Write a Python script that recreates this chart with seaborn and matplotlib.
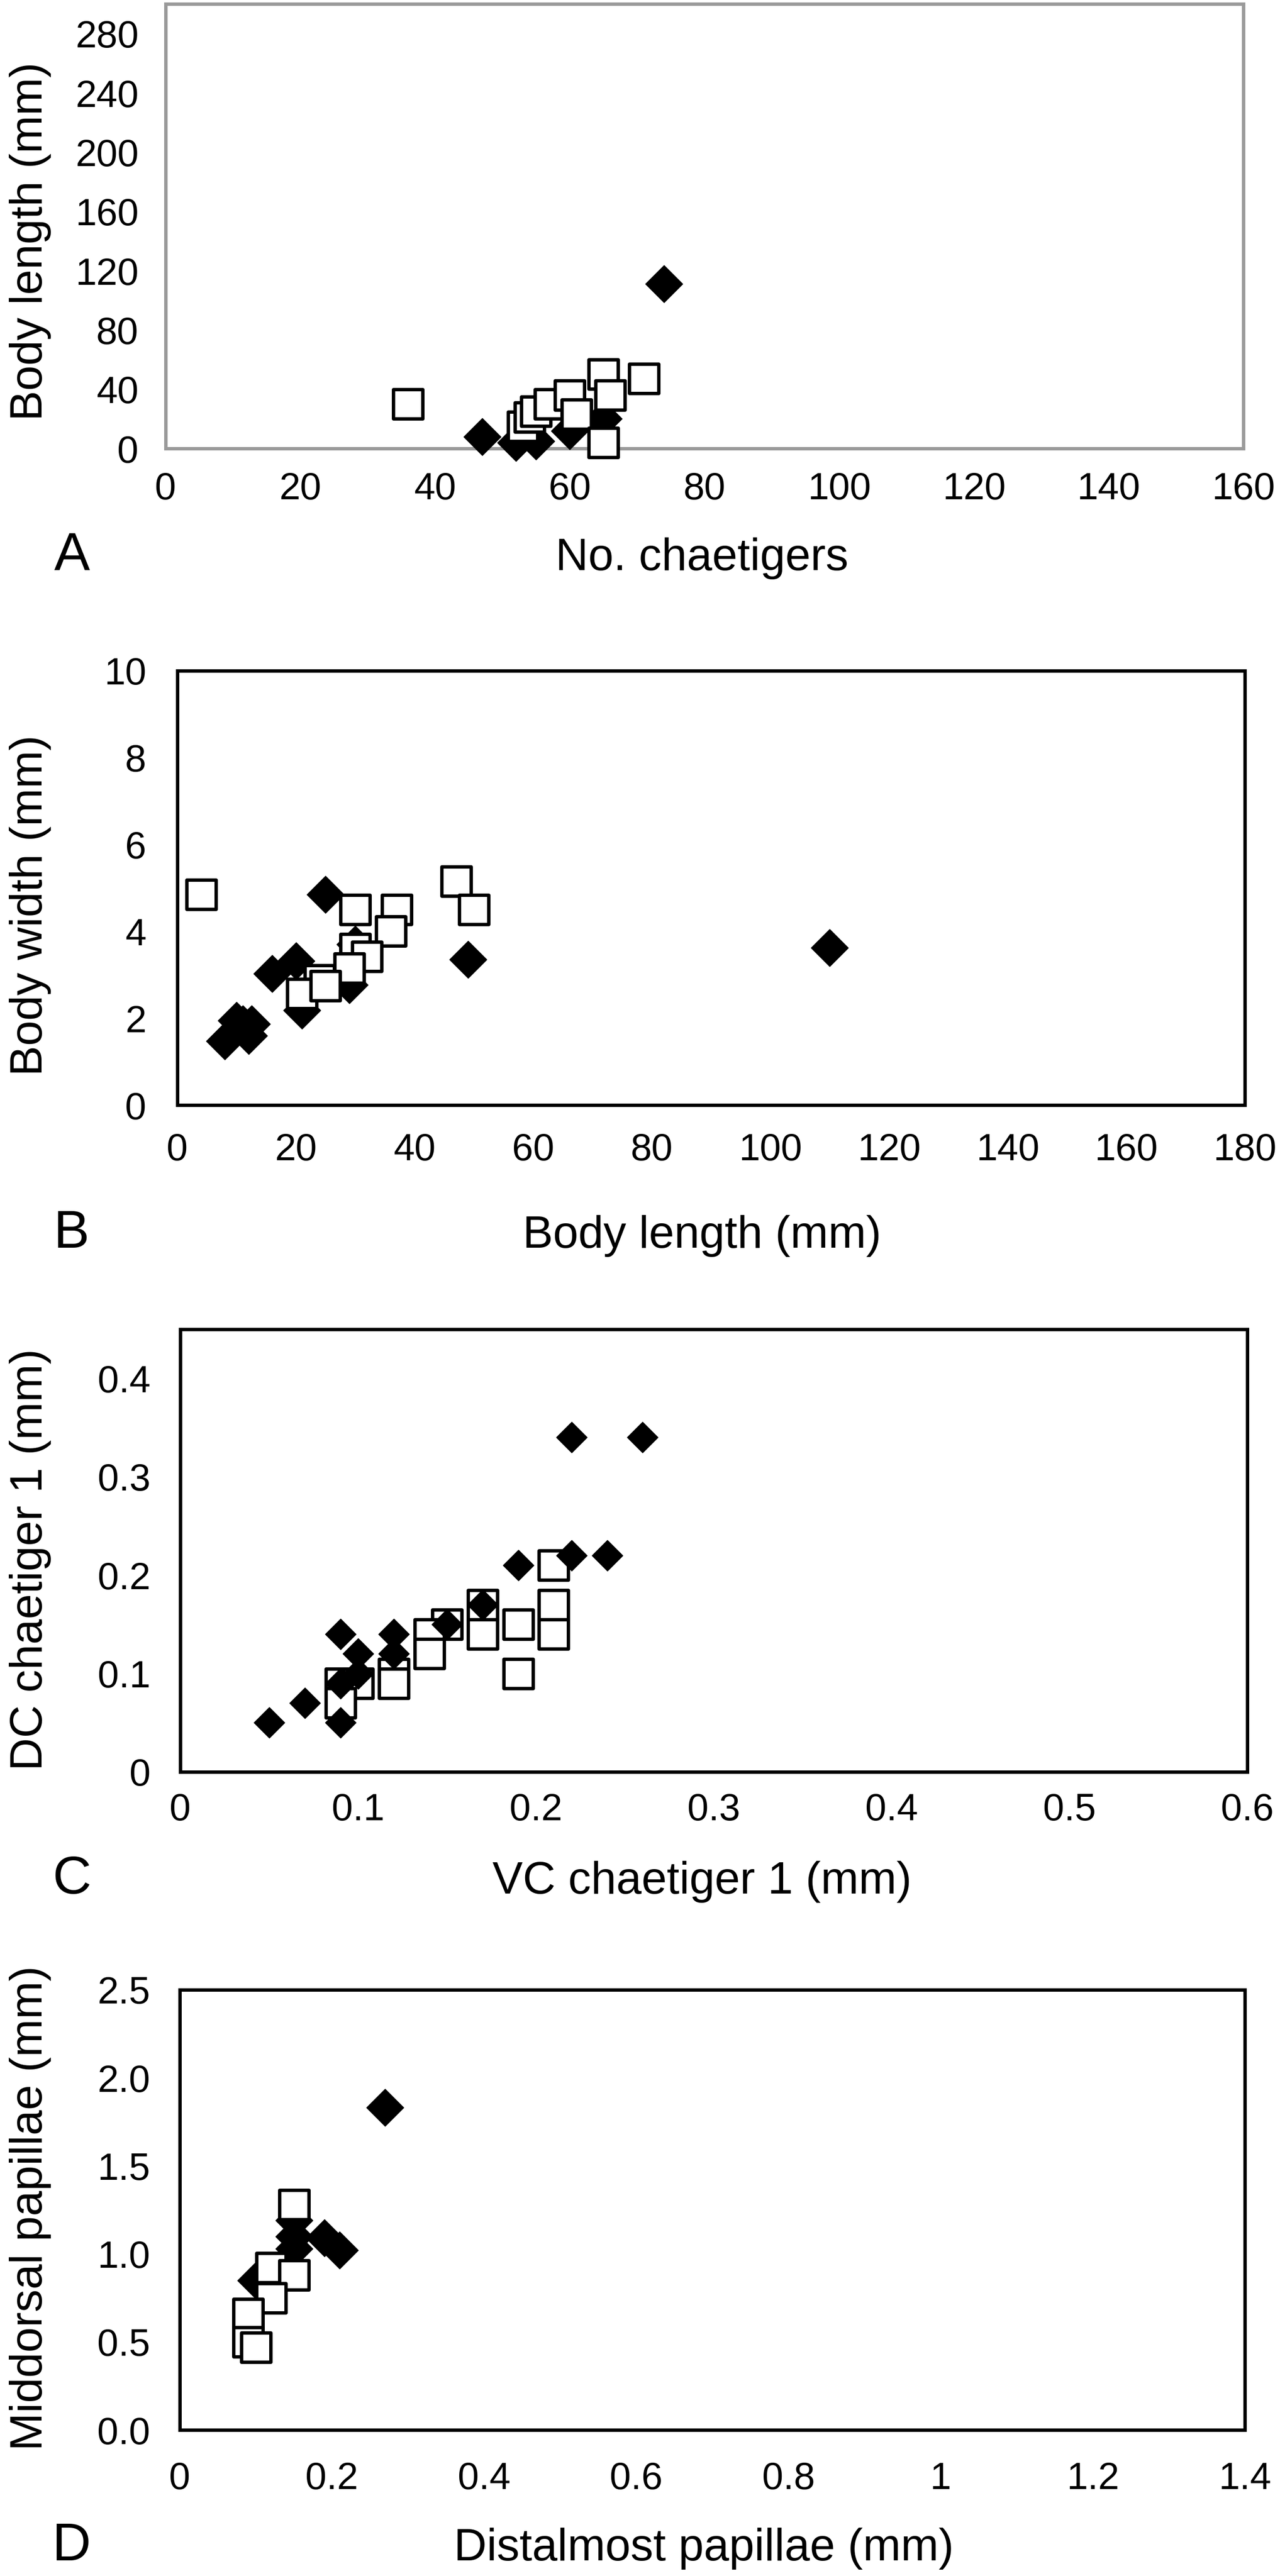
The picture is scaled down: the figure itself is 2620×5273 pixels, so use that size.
import matplotlib
matplotlib.use("Agg")
import matplotlib.pyplot as plt
import seaborn as sns

# --- data ---
# A: No. chaetigers vs body length (mm)
a_dia_x = [74, 47, 52, 55, 60, 65]
a_dia_y = [111, 8, 4, 5, 12, 20]
a_sq_x = [36, 53, 54, 55, 57, 60, 61, 65, 66, 71, 65]
a_sq_y = [30, 15, 21, 25, 30, 36, 23, 50, 36, 47, 4]

# B: body length vs body width (mm)
b_dia_x = [25, 49, 20, 16, 21, 29, 30, 8, 10, 11, 12.5, 12, 110]
b_dia_y = [4.85, 3.35, 3.32, 3.03, 2.18, 2.77, 3.7, 1.47, 1.95, 1.87, 1.87, 1.6, 3.62]
b_sq_x = [4, 47, 50, 30, 37, 36, 30, 32, 29, 24, 21, 25]
b_sq_y = [4.85, 5.15, 4.5, 4.5, 4.5, 4.0, 3.6, 3.42, 3.15, 2.88, 2.56, 2.75]

# C: VC chaetiger 1 vs DC chaetiger 1 (mm)
c_dia_x = [0.22, 0.26, 0.22, 0.24, 0.19, 0.17, 0.15, 0.12, 0.12, 0.09, 0.10, 0.09, 0.10, 0.07, 0.05, 0.09]
c_dia_y = [0.34, 0.34, 0.22, 0.22, 0.21, 0.17, 0.15, 0.14, 0.12, 0.14, 0.12, 0.09, 0.10, 0.07, 0.05, 0.05]
c_sq_x = [0.21, 0.21, 0.21, 0.19, 0.19, 0.17, 0.17, 0.15, 0.14, 0.14, 0.12, 0.12, 0.09, 0.10, 0.09]
c_sq_y = [0.21, 0.17, 0.14, 0.15, 0.10, 0.17, 0.14, 0.15, 0.14, 0.12, 0.10, 0.09, 0.09, 0.09, 0.07]

# D: distalmost vs middorsal papillae (mm)
d_dia_x = [0.27, 0.15, 0.15, 0.15, 0.19, 0.21, 0.10]
d_dia_y = [1.83, 1.19, 1.10, 1.03, 1.09, 1.02, 0.85]
d_sq_x = [0.15, 0.12, 0.15, 0.12, 0.09, 0.09, 0.10]
d_sq_y = [1.28, 0.92, 0.88, 0.75, 0.66, 0.50, 0.47]

a_xticks = [0, 20, 40, 60, 80, 100, 120, 140, 160]
a_yticks = [0, 40, 80, 120, 160, 200, 240, 280]
b_xticks = [0, 20, 40, 60, 80, 100, 120, 140, 160, 180]
b_yticks = [0, 2, 4, 6, 8, 10]
c_xticks = [0, 0.1, 0.2, 0.3, 0.4, 0.5, 0.6]
c_xlabels = ["0", "0.1", "0.2", "0.3", "0.4", "0.5", "0.6"]
c_yticks = [0, 0.1, 0.2, 0.3, 0.4]
c_ylabels = ["0", "0.1", "0.2", "0.3", "0.4"]
d_xticks = [0, 0.2, 0.4, 0.6, 0.8, 1.0, 1.2, 1.4]
d_xlabels = ["0", "0.2", "0.4", "0.6", "0.8", "1", "1.2", "1.4"]
d_yticks = [0, 0.5, 1.0, 1.5, 2.0, 2.5]
d_ylabels = ["0.0", "0.5", "1.0", "1.5", "2.0", "2.5"]

# --- figure ---
W, H = 2620, 5273
sns.set_theme(style="white")
plt.rcParams["font.family"] = ["Liberation Sans", "DejaVu Sans"]
fig = plt.figure(figsize=(W / 100, H / 100), dpi=100)

TICK_FS = 56
LABEL_FS = 67
LETTER_FS = 79
DIA_S = 1500
SQ_S = 1900


def make_panel(box, xlim, ylim, dia, sq, squares_on_top=True, dia_s=DIA_S,
               spine_color="black", xpad=20, ypad=30):
    L, R, T, B = box
    ax = fig.add_axes([L / W, 1 - B / H, (R - L) / W, (B - T) / H])
    z_sq, z_dia = (4, 3) if squares_on_top else (3, 4)
    sns.scatterplot(x=dia[0], y=dia[1], marker="D", s=dia_s, color="black",
                    edgecolor="black", linewidth=1, ax=ax, clip_on=False, zorder=z_dia)
    sns.scatterplot(x=sq[0], y=sq[1], marker="s", s=SQ_S, color="white",
                    edgecolor="black", linewidth=5, ax=ax, clip_on=False, zorder=z_sq)
    ax.set_xlim(*xlim)
    ax.set_ylim(*ylim)
    for sp in ax.spines.values():
        sp.set_visible(True)
        sp.set_color(spine_color)
        sp.set_linewidth(5)
    ax.tick_params(axis="both", direction="out", length=14, width=5,
                   color="black", labelsize=TICK_FS, labelcolor="black")
    ax.tick_params(axis="x", pad=xpad)
    ax.tick_params(axis="y", pad=ypad)
    ax.grid(False)
    return ax


def add_labels(ax, xlabel, ylabel, letter, base_y, ylab_y, xlab_x=1437):
    ax.set_xlabel(xlabel, fontsize=LABEL_FS, color="black", va="baseline")
    ax.xaxis.set_label_coords(xlab_x / W, 1 - base_y / H, transform=fig.transFigure)
    ax.set_ylabel(ylabel, fontsize=LABEL_FS, color="black", va="center")
    ax.yaxis.set_label_coords(62 / W, 1 - ylab_y / H, transform=fig.transFigure)
    fig.text(147 / W, 1 - base_y / H, letter, fontsize=LETTER_FS,
             ha="center", va="baseline", color="black")


# A
axA = make_panel((339, 2545, 8, 918), (0, 160), (0, 300),
                 (a_dia_x, a_dia_y), (a_sq_x, a_sq_y),
                 spine_color="#9a9a9a", xpad=20, ypad=26)
axA.set_xticks(a_xticks)
axA.set_yticks(a_yticks)
add_labels(axA, "No. chaetigers", "Body length (mm)", "A", 1167, 494)

# B
axB = make_panel((363, 2548, 1373, 2262), (0, 180), (0, 10),
                 (b_dia_x, b_dia_y), (b_sq_x, b_sq_y), xpad=26, ypad=32)
axB.set_xticks(b_xticks)
axB.set_yticks(b_yticks)
add_labels(axB, "Body length (mm)", "Body width (mm)", "B", 2554, 1853)

# C
axC = make_panel((369, 2553, 2721, 3627), (0, 0.6), (0, 0.45),
                 (c_dia_x, c_dia_y), (c_sq_x, c_sq_y), squares_on_top=False,
                 dia_s=1024, xpad=16, ypad=30)
axC.set_xticks(c_xticks)
axC.set_xticklabels(c_xlabels)
axC.set_yticks(c_yticks)
axC.set_yticklabels(c_ylabels)
add_labels(axC, "VC chaetiger 1 (mm)", "DC chaetiger 1 (mm)", "C", 3876, 3192)

# D
axD = make_panel((368, 2548, 4073, 4974), (0, 1.4), (0, 2.5),
                 (d_dia_x, d_dia_y), (d_sq_x, d_sq_y), xpad=32, ypad=30)
axD.set_xticks(d_xticks)
axD.set_xticklabels(d_xlabels)
axD.set_yticks(d_yticks)
axD.set_yticklabels(d_ylabels)
add_labels(axD, "Distalmost papillae (mm)", "Middorsal papillae (mm)", "D", 5241, 4520, xlab_x=1441)

fig.savefig("out.png", dpi=100, facecolor="white")
